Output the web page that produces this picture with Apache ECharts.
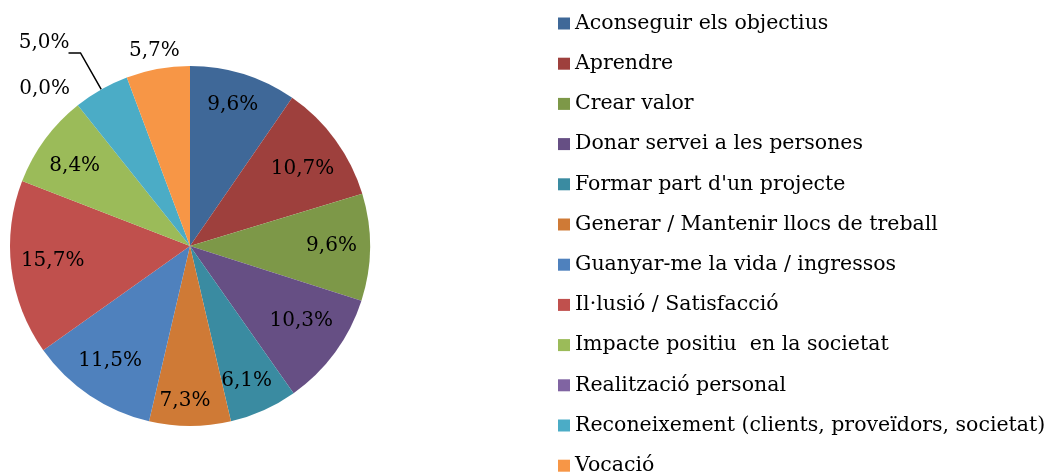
<!DOCTYPE html>
<html>
<head>
<meta charset="utf-8">
<script src="https://cdn.jsdelivr.net/npm/echarts@6/dist/echarts.min.js"></script>
<style>html,body{margin:0;padding:0;background:#fff}#c{width:1057px;height:474px}</style>
</head>
<body>
<div id="c"></div>
<script>
const categories = [
  "Aconseguir els objectius",
  "Aprendre",
  "Crear valor",
  "Donar servei a les persones",
  "Formar part d'un projecte",
  "Generar / Mantenir llocs de treball",
  "Guanyar-me la vida / ingressos",
  "Il·lusió / Satisfacció",
  "Impacte positiu  en la societat",
  "Realització personal",
  "Reconeixement (clients, proveïdors, societat)",
  "Vocació"
];
const values = [9.6, 10.7, 9.6, 10.3, 6.1, 7.3, 11.5, 15.7, 8.4, 0.0, 5.0, 5.7];
const colors = ["#3F6898", "#9E403D", "#7D9848", "#664F84", "#3A8BA1", "#CF7A36",
                "#4F81BD", "#C0504D", "#9BBB59", "#8064A2", "#4BACC6", "#F79646"];

const FONT = "DejaVu Serif";
const fmt = v => v.toFixed(1).replace('.', ',') + '%';

// label placement tweaks (style only, not data)
const labelOffsets = [[-2, 2], [-9, 12], [-9, -1], [-10, -14], [-5, -3], [-5, 4],
                      [4, -10], [12, -4], [6, 9], [10, -6], [6, -10], [28, -12]];
const outsideCfg = {
  9: { labelLine: { show: false, length: 14, length2: 4 } },
  10: { labelLine: { show: true, length: 42, length2: 12 } },
  11: { labelLine: { show: false, length: 6, length2: 0 } }
};

const pieData = categories.map((n, i) => ({ name: n, value: values[i], itemStyle: { color: colors[i] } }));

const labelData = categories.map((n, i) => {
  const d = {
    name: n, value: values[i],
    itemStyle: { color: 'rgba(0,0,0,0)' },
    label: { offset: labelOffsets[i] }
  };
  if (outsideCfg[i]) {
    d.label.position = 'outside';
    d.labelLine = outsideCfg[i].labelLine;
  }
  return d;
});

const chart = echarts.init(document.getElementById('c'), null, { renderer: 'canvas' });
chart.setOption({
  animation: false,
  backgroundColor: '#fff',
  color: colors,
  legend: {
    orient: 'vertical',
    left: 558,
    top: 13,
    height: 490,
    padding: 0,
    itemWidth: 12,
    itemHeight: 12,
    itemGap: 19.2,
    icon: 'rect',
    data: categories,
    selectedMode: false,
    textStyle: { fontFamily: FONT, fontSize: 20.5, color: '#000' }
  },
  series: [
    {
      type: 'pie',
      center: [190, 246],
      radius: [0, 180],
      startAngle: 90,
      clockwise: true,
      data: pieData,
      label: { show: false },
      labelLine: { show: false },
      silent: true,
      emphasis: { disabled: true }
    },
    {
      type: 'pie',
      center: [190, 246],
      radius: [115, 180],
      startAngle: 90,
      clockwise: true,
      data: labelData,
      avoidLabelOverlap: false,
      silent: true,
      emphasis: { disabled: true },
      label: {
        show: true,
        position: 'inner',
        formatter: p => fmt(p.value),
        fontFamily: FONT,
        fontSize: 20,
        color: '#000'
      },
      labelLine: { lineStyle: { color: '#000', width: 1.5 } }
    }
  ]
});
</script>
</body>
</html>
